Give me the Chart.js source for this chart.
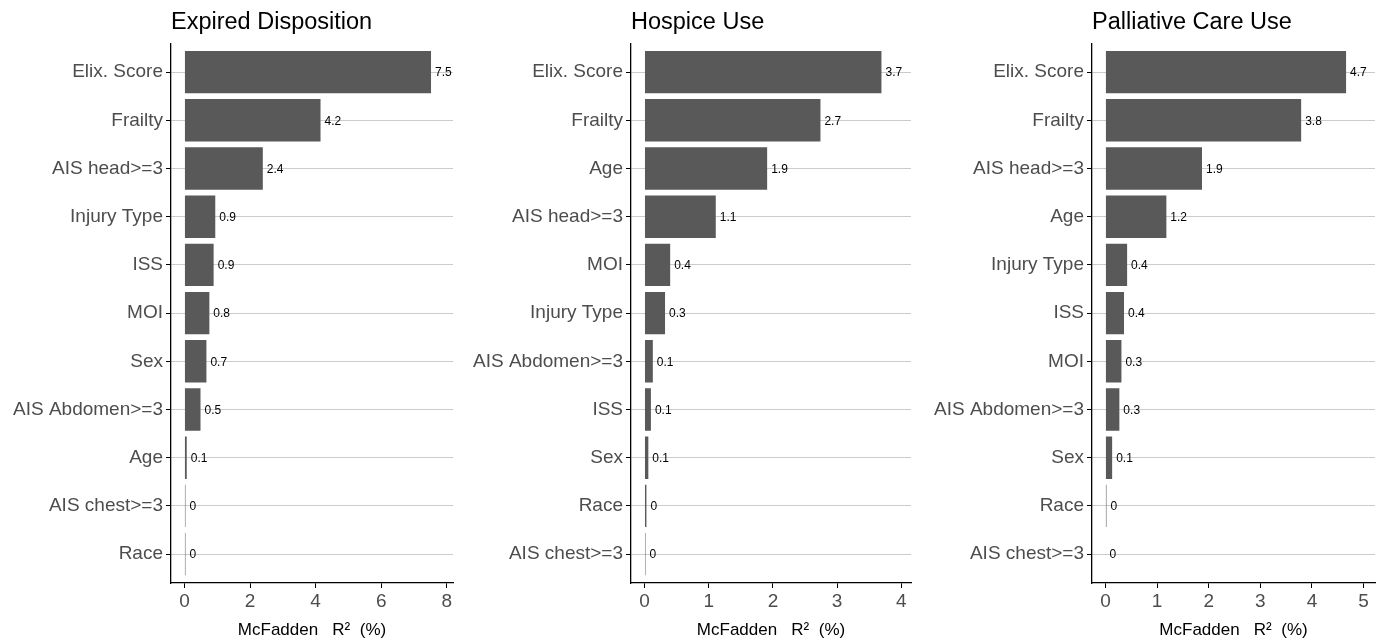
<!DOCTYPE html>
<html>
<head>
<meta charset="utf-8">
<script src="https://cdn.jsdelivr.net/npm/chart.js@4.4.1/dist/chart.umd.min.js"></script>
<style>
  html, body { margin: 0; padding: 0; background: #fff; }
  .panel { position: absolute; top: 0; }
</style>
</head>
<body>
<div class="panel" style="left:0px"><canvas id="expiredChart" width="460" height="641"></canvas></div>
<div class="panel" style="left:460px"><canvas id="hospiceChart" width="460" height="641"></canvas></div>
<div class="panel" style="left:920px"><canvas id="palliativeChart" width="466" height="641"></canvas></div>
<script>
/* ---------- DATA ---------- */
const expiredLabels = ["Elix. Score", "Frailty", "AIS head>=3", "Injury Type", "ISS", "MOI", "Sex", "AIS Abdomen>=3", "Age", "AIS chest>=3", "Race"];
const expiredValues = [7.52, 4.15, 2.39, 0.94, 0.89, 0.76, 0.67, 0.49, 0.07, 0.03, 0.03];
const expiredTicks = [0, 2, 4, 6, 8];

const hospiceLabels = ["Elix. Score", "Frailty", "Age", "AIS head>=3", "MOI", "Injury Type", "AIS Abdomen>=3", "ISS", "Sex", "Race", "AIS chest>=3"];
const hospiceValues = [3.69, 2.74, 1.91, 1.11, 0.40, 0.32, 0.13, 0.10, 0.06, 0.03, 0.015];
const hospiceTicks = [0, 1, 2, 3, 4];

const palliativeLabels = ["Elix. Score", "Frailty", "AIS head>=3", "Age", "Injury Type", "ISS", "MOI", "AIS Abdomen>=3", "Sex", "Race", "AIS chest>=3"];
const palliativeValues = [4.66, 3.79, 1.87, 1.18, 0.42, 0.36, 0.31, 0.27, 0.13, 0.02, 0];
const palliativeTicks = [0, 1, 2, 3, 4, 5];

const FONT = "'Liberation Sans', Arial, sans-serif";

// R-style label: one decimal, trailing zero dropped
const fmt = (v) => String(Math.round(v * 10) / 10);

/* ---------- BAR VALUE LABELS ---------- */
const valueLabels = {
  id: "valueLabels",
  afterDatasetsDraw(chart) {
    const ctx = chart.ctx;
    const meta = chart.getDatasetMeta(0);
    const data = chart.data.datasets[0].data;
    ctx.save();
    ctx.font = "12px " + FONT;
    ctx.fillStyle = "#000";
    ctx.textAlign = "left";
    ctx.textBaseline = "middle";
    meta.data.forEach((bar, i) => {
      ctx.fillText(fmt(data[i].x), bar.x + 4, bar.y + 1);
    });
    ctx.restore();
  },
};

/* ---------- CHART FACTORY ---------- */
function makePanel(id, title, labels, values, ticks, xMin, xMax, axisW, padRight) {
  return new Chart(document.getElementById(id), {
    type: "bar",
    data: {
      datasets: [
        {
          data: values.map((v, i) => ({ x: v, y: i })),
          backgroundColor: "#595959",
          borderWidth: 0,
          barPercentage: 0.88,
          categoryPercentage: 1.0,
        },
      ],
    },
    options: {
      indexAxis: "y",
      responsive: false,
      animation: false,
      devicePixelRatio: 1,
      layout: { padding: { left: 0, right: padRight, top: 0, bottom: 0 } },
      plugins: {
        legend: { display: false },
        tooltip: { enabled: false },
        title: {
          display: true,
          text: title,
          align: "start",
          fullSize: false,
          color: "#000",
          font: { family: FONT, size: 23.5, weight: "normal" },
          padding: { top: 8, bottom: 7 },
        },
      },
      scales: {
        y: {
          type: "linear",
          reverse: true,
          offset: false,
          min: -0.6,
          max: labels.length - 0.4,
          afterBuildTicks: (s) => {
            s.ticks = labels.map((_, i) => ({ value: i }));
          },
          afterFit: (s) => {
            s.width = axisW;
          },
          ticks: {
            callback: (v) => labels[v],
            color: "#4d4d4d",
            font: { family: FONT, size: 19 },
            padding: 3,
            autoSkip: false,
          },
          grid: {
            offset: false,
            color: "#cbcbcb",
            lineWidth: 1,
            tickColor: "#000",
            tickLength: 5,
            drawOnChartArea: true,
          },
          border: { color: "#000", width: 1.3 },
        },
        x: {
          type: "linear",
          min: xMin,
          max: xMax,
          afterBuildTicks: (s) => {
            s.ticks = ticks.map((t) => ({ value: t }));
          },
          afterFit: (s) => {
            s.height = 58;
          },
          ticks: {
            color: "#4d4d4d",
            font: { family: FONT, size: 19 },
            padding: 2,
            maxRotation: 0,
          },
          grid: {
            drawOnChartArea: false,
            tickColor: "#000",
            tickLength: 5,
          },
          border: { color: "#000", width: 1.3 },
          title: {
            display: true,
            text: "McFadden   R²  (%)",
            color: "#000",
            font: { family: FONT, size: 17 },
            padding: { top: 0, bottom: 0 },
          },
        },
      },
    },
    plugins: [valueLabels],
  });
}

makePanel("expiredChart", "Expired Disposition", expiredLabels, expiredValues, expiredTicks, -0.41, 8.19, 171, 7);
makePanel("hospiceChart", "Hospice Use", hospiceLabels, hospiceValues, hospiceTicks, -0.21, 4.15, 171, 9);
makePanel("palliativeChart", "Palliative Care Use", palliativeLabels, palliativeValues, palliativeTicks, -0.26, 5.22, 172, 11);
</script>
</body>
</html>
